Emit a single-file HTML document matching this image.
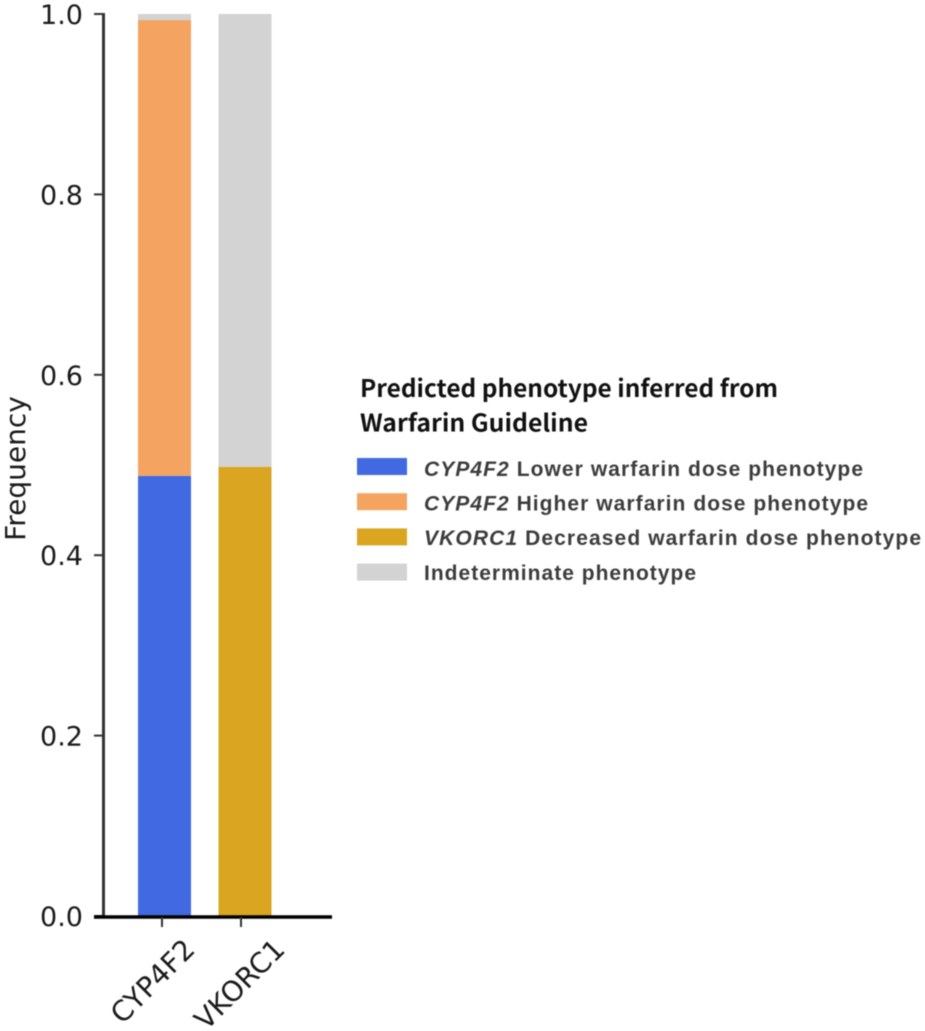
<!DOCTYPE html>
<html>
<head>
<meta charset="utf-8">
<title>Predicted phenotype frequency</title>
<style>
html,body{margin:0;padding:0;background:#fff;width:925px;height:1031px;overflow:hidden}
svg{display:block;filter:blur(0.5px)}
.tick{font-family:"DejaVu Sans",sans-serif;font-size:27px;fill:#1a1a1a}
.x-tick{font-family:"DejaVu Sans",sans-serif;font-size:28px;fill:#1a1a1a}
.axis-title{font-family:"DejaVu Sans",sans-serif;font-size:28px;fill:#1a1a1a}
.legend-title{font-family:"Noto Sans CJK SC","Liberation Sans",sans-serif;font-weight:bold;font-size:24px;fill:#111}
.legend-text{font-family:"Liberation Sans",sans-serif;font-weight:bold;font-size:21px;fill:#3c3c3c}
</style>
</head>
<body>
<svg id="chart" xmlns="http://www.w3.org/2000/svg" width="925" height="1031" viewBox="0 0 925 1031"></svg>
<script>
const categories = ['CYP4F2', 'VKORC1'];
const lowerDose = [0.488, 0];
const higherDose = [0.5053, 0];
const decreasedDose = [0, 0.498];
const indeterminate = [0.0067, 0.502];
const yTicks = [0, 0.2, 0.4, 0.6, 0.8, 1.0];
const yTickLabels = ['0.0', '0.2', '0.4', '0.6', '0.8', '1.0'];
const seriesNames = ['lower-dose', 'higher-dose', 'decreased-dose', 'indeterminate'];
const seriesColors = ['#4169e1', '#f4a460', '#daa520', '#d3d3d3'];
const legendPrefix = ['CYP4F2', 'CYP4F2', 'VKORC1', ''];
const legendLabels = ['Lower warfarin dose phenotype', 'Higher warfarin dose phenotype', 'Decreased warfarin dose phenotype', 'Indeterminate phenotype'];

const NS = 'http://www.w3.org/2000/svg';
const svg = document.getElementById('chart');
const seriesValues = [lowerDose, higherDose, decreasedDose, indeterminate];

function yScale(v) { return 916 - v * 902; }
function xCenter(i) { return 164.5 + i * 80.5; }
const barWidth = 53;

function mk(tag, attrs, text) {
  const el = document.createElementNS(NS, tag);
  for (const k in attrs) el.setAttribute(k, attrs[k]);
  if (text !== undefined) el.textContent = text;
  svg.appendChild(el);
  return el;
}

// bars
categories.forEach(function (cat, i) {
  let base = 0;
  seriesValues.forEach(function (vals, s) {
    const v = vals[i];
    if (v <= 0) return;
    const r = mk('rect', { x: xCenter(i) - barWidth / 2, y: yScale(base + v), width: barWidth, height: yScale(base) - yScale(base + v), fill: seriesColors[s] });
    
    
    base += v;
  });
});

// y axis
const ySpine = mk('line', { x1: 103.5, x2: 103.5, y1: yScale(1) - 1, y2: 917, stroke: '#333', 'stroke-width': 3 });


yTicks.forEach(function (t, i) {
  const tk = mk('line', { x1: 94, x2: 104, y1: yScale(t), y2: yScale(t), stroke: '#333', 'stroke-width': 2 });
  
  
  const lb = mk('text', { x: 83, y: yScale(t) + 10, 'text-anchor': 'end', class: 'tick' }, yTickLabels[i]);
  
  
});
const yTitle = mk('text', { transform: 'translate(25,468.5) rotate(-90)', 'text-anchor': 'middle', class: 'axis-title' }, 'Frequency');



// x axis
const xSpine = mk('line', { x1: 94, x2: 332, y1: 917, y2: 917, stroke: '#000', 'stroke-width': 3.5 });


categories.forEach(function (cat, i) {
  const tx = xCenter(i) - 2.5 - 1.5 * i;
  const tk = mk('line', { x1: tx, x2: tx, y1: 917, y2: 927, stroke: '#333', 'stroke-width': 2 });
  
  
  const lb = mk('text', { transform: 'translate(' + (xCenter(i) + 32 + 9.5 * i) + ',951) rotate(-45)', 'text-anchor': 'end', class: 'x-tick' }, cat);
  
  
});

// legend
const t1 = mk('text', { x: 360, y: 397, class: 'legend-title', textLength: 418, lengthAdjust: 'spacingAndGlyphs' }, 'Predicted phenotype inferred from');


const t2 = mk('text', { x: 360, y: 431.5, class: 'legend-title', textLength: 228, lengthAdjust: 'spacingAndGlyphs' }, 'Warfarin Guideline');



const legendWidths = [439, 444, 497, 272];
legendLabels.forEach(function (label, i) {
  const top = 458 + i * 35.2;
  const sw = mk('rect', { x: 357, y: top, width: 50, height: 17, fill: seriesColors[i] });
  
  
  const tx = mk('text', { x: 424, y: 476 + i * 34.6, class: 'legend-text', textLength: legendWidths[i], lengthAdjust: 'spacing' });
  
  
  if (legendPrefix[i]) {
    const it = document.createElementNS(NS, 'tspan');
    it.setAttribute('font-style', 'italic');
    it.textContent = legendPrefix[i] + ' ';
    tx.appendChild(it);
  }
  tx.appendChild(document.createTextNode(label));
});
</script>
</body>
</html>
